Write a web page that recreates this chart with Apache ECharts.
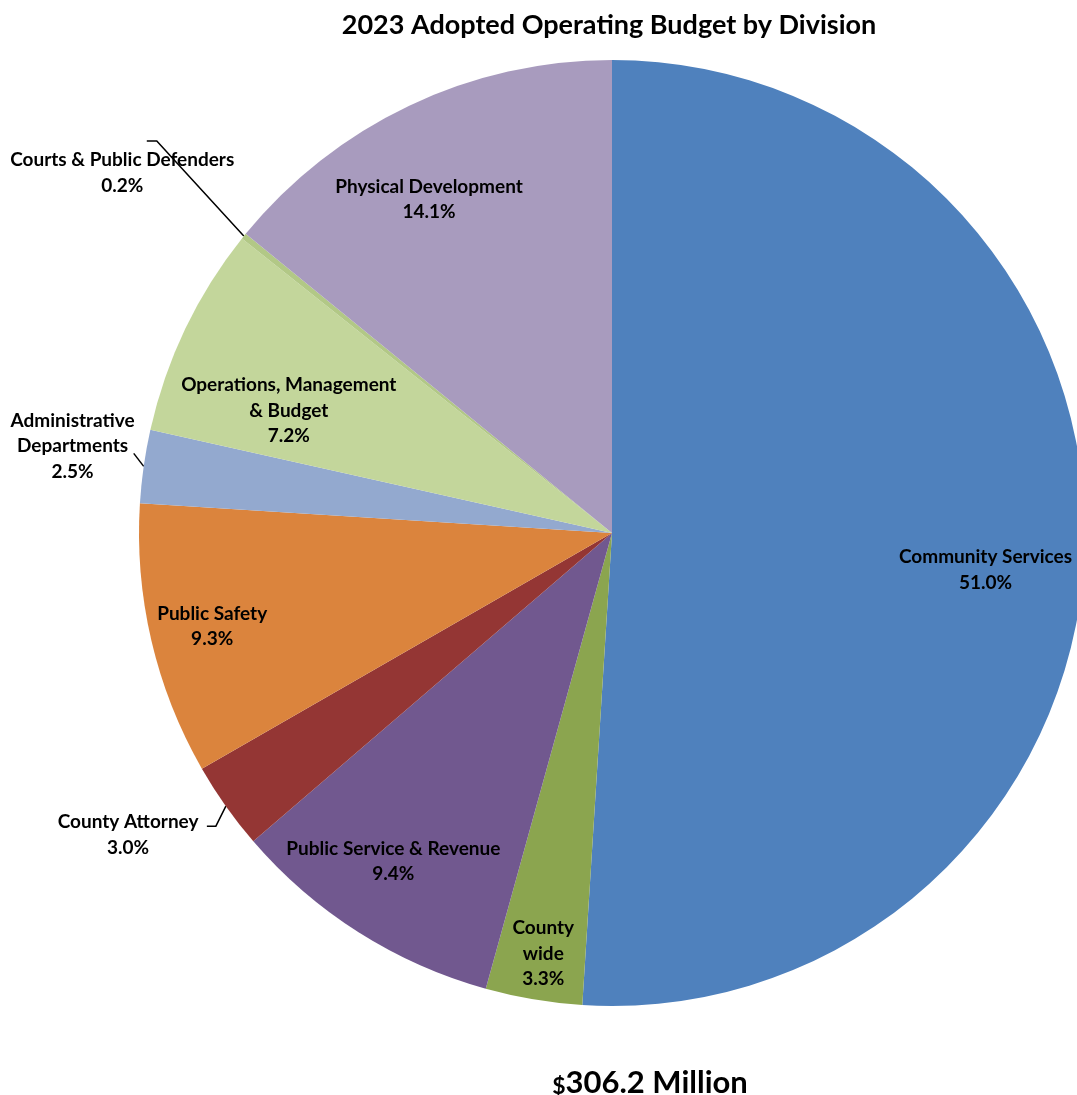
<!DOCTYPE html>
<html>
<head>
<meta charset="utf-8">
<script src="https://cdn.jsdelivr.net/npm/echarts@6/dist/echarts.min.js"></script>
<style>
  html, body { margin: 0; padding: 0; background: #ffffff; }
  #chart { width: 1077px; height: 1095px; }
</style>
</head>
<body>
<div id="chart"></div>
<script>
// Operating budget share by division, percent of total
const divisions = [
  'Community Services',
  'County\nwide',
  'Public Service & Revenue',
  'County Attorney',
  'Public Safety',
  'Administrative\nDepartments',
  'Operations, Management\n& Budget',
  'Courts & Public Defenders',
  'Physical Development'
];
const sharePct = [51.0, 3.3, 9.4, 3.0, 9.3, 2.5, 7.2, 0.2, 14.1];
const sliceColors = ['#4F81BD', '#8BA54F', '#71588F', '#943634', '#DB843D',
                     '#93A9CF', '#C3D69B', '#B2C886', '#A89BBE'];
const outsideLabels = [3, 5, 7];
const totalMillions = 306.2;
const titleText = '2023 Adopted Operating Budget by Division';

// Geometry of the pie
const CX = 612, CY = 533, R = 473;
const FONT = 'Lato, "Noto Sans", sans-serif';

// Label anchor: radius factor along slice mid-angle, then a pixel nudge
const labelPlace = [
  [0.790, 0, 25], [0.902, 2, 0], [0.835, -7, -5], [1.204, -19, -27],
  [0.868, 0, 0], [1.154, 1, -10], [0.727, -13, 26], [1.284, -17, 21], [0.804, -20, 10]
];
// Leader lines for outside labels: rim -> elbow offset, then horizontal tail length
const leader = { 3: [-10, 20, -9], 5: [-10, -13, 0], 7: [-87, -95, -10] };

const total = sharePct.reduce((a, b) => a + b, 0);
const midAngle = [];
let acc = 0;
sharePct.forEach(v => {
  midAngle.push((acc + v / 2) / total * 2 * Math.PI);
  acc += v;
});

const pieData = divisions.map((name, i) => {
  const item = {
    name: name,
    value: sharePct[i],
    itemStyle: { color: sliceColors[i] }
  };
  if (outsideLabels.includes(i)) {
    item.label = { position: 'outside', width: 320, overflow: 'none' };
    item.labelLine = { show: true, lineStyle: { color: '#000', width: 1.5 } };
  } else {
    item.label = { position: 'inside' };
    item.labelLine = { show: false };
  }
  return item;
});

const chart = echarts.init(document.getElementById('chart'), null, { renderer: 'canvas' });
chart.setOption({
  animation: false,
  backgroundColor: '#ffffff',
  title: [
    {
      text: titleText,
      left: 604, top: 7, textAlign: 'center',
      textStyle: { fontFamily: FONT, fontWeight: 'bold', fontSize: 27, color: '#000' }
    },
    {
      text: '{s|$}{m|' + totalMillions.toFixed(1) + ' Million}',
      left: 645, top: 1062, textAlign: 'center',
      textStyle: {
        rich: {
          s: { fontFamily: FONT, fontWeight: 'bold', fontSize: 23, color: '#000', verticalAlign: 'bottom' },
          m: { fontFamily: FONT, fontWeight: 'bold', fontSize: 31, color: '#000' }
        }
      }
    }
  ],
  series: [{
    type: 'pie',
    center: [CX, CY],
    radius: R,
    startAngle: 90,
    clockwise: true,
    avoidLabelOverlap: false,
    emphasis: { disabled: true },
    itemStyle: { borderWidth: 0 },
    label: {
      show: true,
      color: '#000',
      fontFamily: FONT,
      fontWeight: 'bold',
      fontSize: 19,
      lineHeight: 25.5,
      align: 'center',
      overflow: 'none',
      formatter: p => p.name + '\n' + p.value.toFixed(1) + '%'
    },
    labelLayout: function (params) {
      const i = params.dataIndex;
      const a = midAngle[i];
      const sx = Math.sin(a), sy = -Math.cos(a);
      const pl = labelPlace[i];
      const out = {
        x: CX + pl[0] * R * sx + pl[1],
        y: CY + pl[0] * R * sy + pl[2],
        align: 'center',
        verticalAlign: 'middle'
      };
      if (leader[i]) {
        const rim = [CX + R * sx, CY + R * sy];
        const elbow = [rim[0] + leader[i][0], rim[1] + leader[i][1]];
        const tail = [elbow[0] + leader[i][2], elbow[1]];
        out.labelLinePoints = [rim, elbow, tail];
      }
      return out;
    },
    data: pieData
  }]
});
</script>
</body>
</html>
